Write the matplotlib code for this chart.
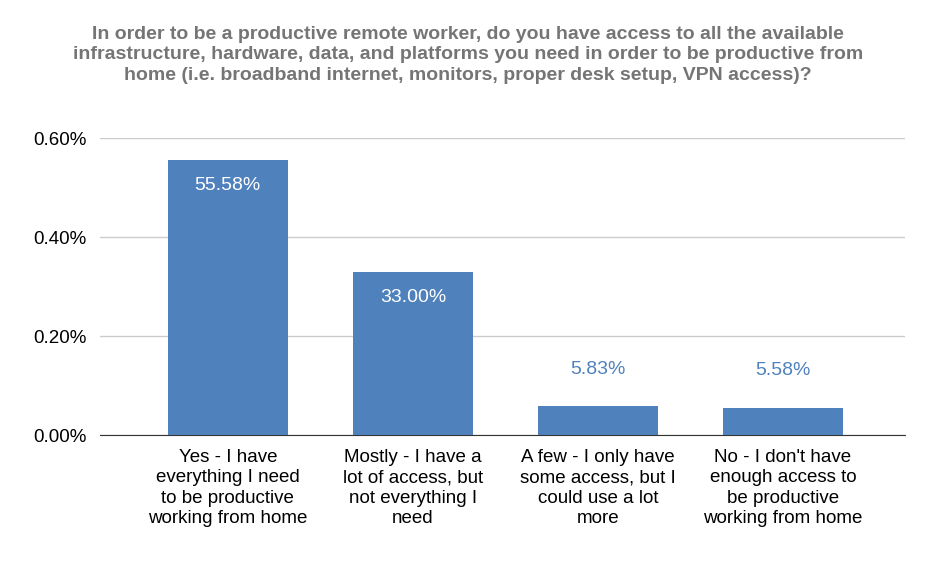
import matplotlib
matplotlib.use("Agg")
import matplotlib.pyplot as plt
from matplotlib.ticker import FuncFormatter

categories = ["Yes - I have\neverything I need\nto be productive\nworking from home",
              "Mostly - I have a\nlot of access, but\nnot everything I\nneed",
              "A few - I only have\nsome access, but I\ncould use a lot\nmore",
              "No - I don't have\nenough access to\nbe productive\nworking from home"]
values = [0.5558, 0.3300, 0.0583, 0.0558]
labels = ["55.58%", "33.00%", "5.83%", "5.58%"]
ticks = [0.0, 0.2, 0.4, 0.6]

plt.rcParams['font.family'] = ['Liberation Sans', 'DejaVu Sans']
blue = "#4F81BD"
fig = plt.figure(figsize=(9.36, 5.78), dpi=100)
ax = fig.add_axes([0.107, 0.247, 0.86, 0.514])
x = range(len(values))
ax.bar(x, values, width=0.65, color=blue, zorder=3)
for i, (v, l) in enumerate(zip(values, labels)):
    if v > 0.2:
        ax.text(i, v - 0.052, l, ha='center', va='center', color='white', fontsize=14)
    else:
        ax.text(i, v + 0.075, l, ha='center', va='center', color=blue, fontsize=14)
ax.set_xlim(-0.69, 3.66)
ax.set_ylim(0, 0.6)
ax.set_yticks(ticks)
ax.yaxis.set_major_formatter(FuncFormatter(lambda v, p: f"{v:.2f}%"))
ax.set_xticks(list(x))
ax.set_xticklabels(categories, fontsize=13.5, linespacing=1.25)
ax.tick_params(axis='y', labelsize=13.5, length=0, pad=10)
ax.tick_params(axis='x', length=0, pad=10)
ax.grid(axis='y', color='#cccccc', linewidth=1, zorder=0)
for s in ['top', 'right', 'left']:
    ax.spines[s].set_visible(False)
ax.spines['bottom'].set_color('#333333')
fig.suptitle("In order to be a productive remote worker, do you have access to all the available\n"
             "infrastructure, hardware, data, and platforms you need in order to be productive from\n"
             "home (i.e. broadband internet, monitors, proper desk setup, VPN access)?",
             y=0.955, fontsize=14, fontweight='bold', color='#757575', linespacing=1.25)
fig.savefig("out.png", dpi=100)
